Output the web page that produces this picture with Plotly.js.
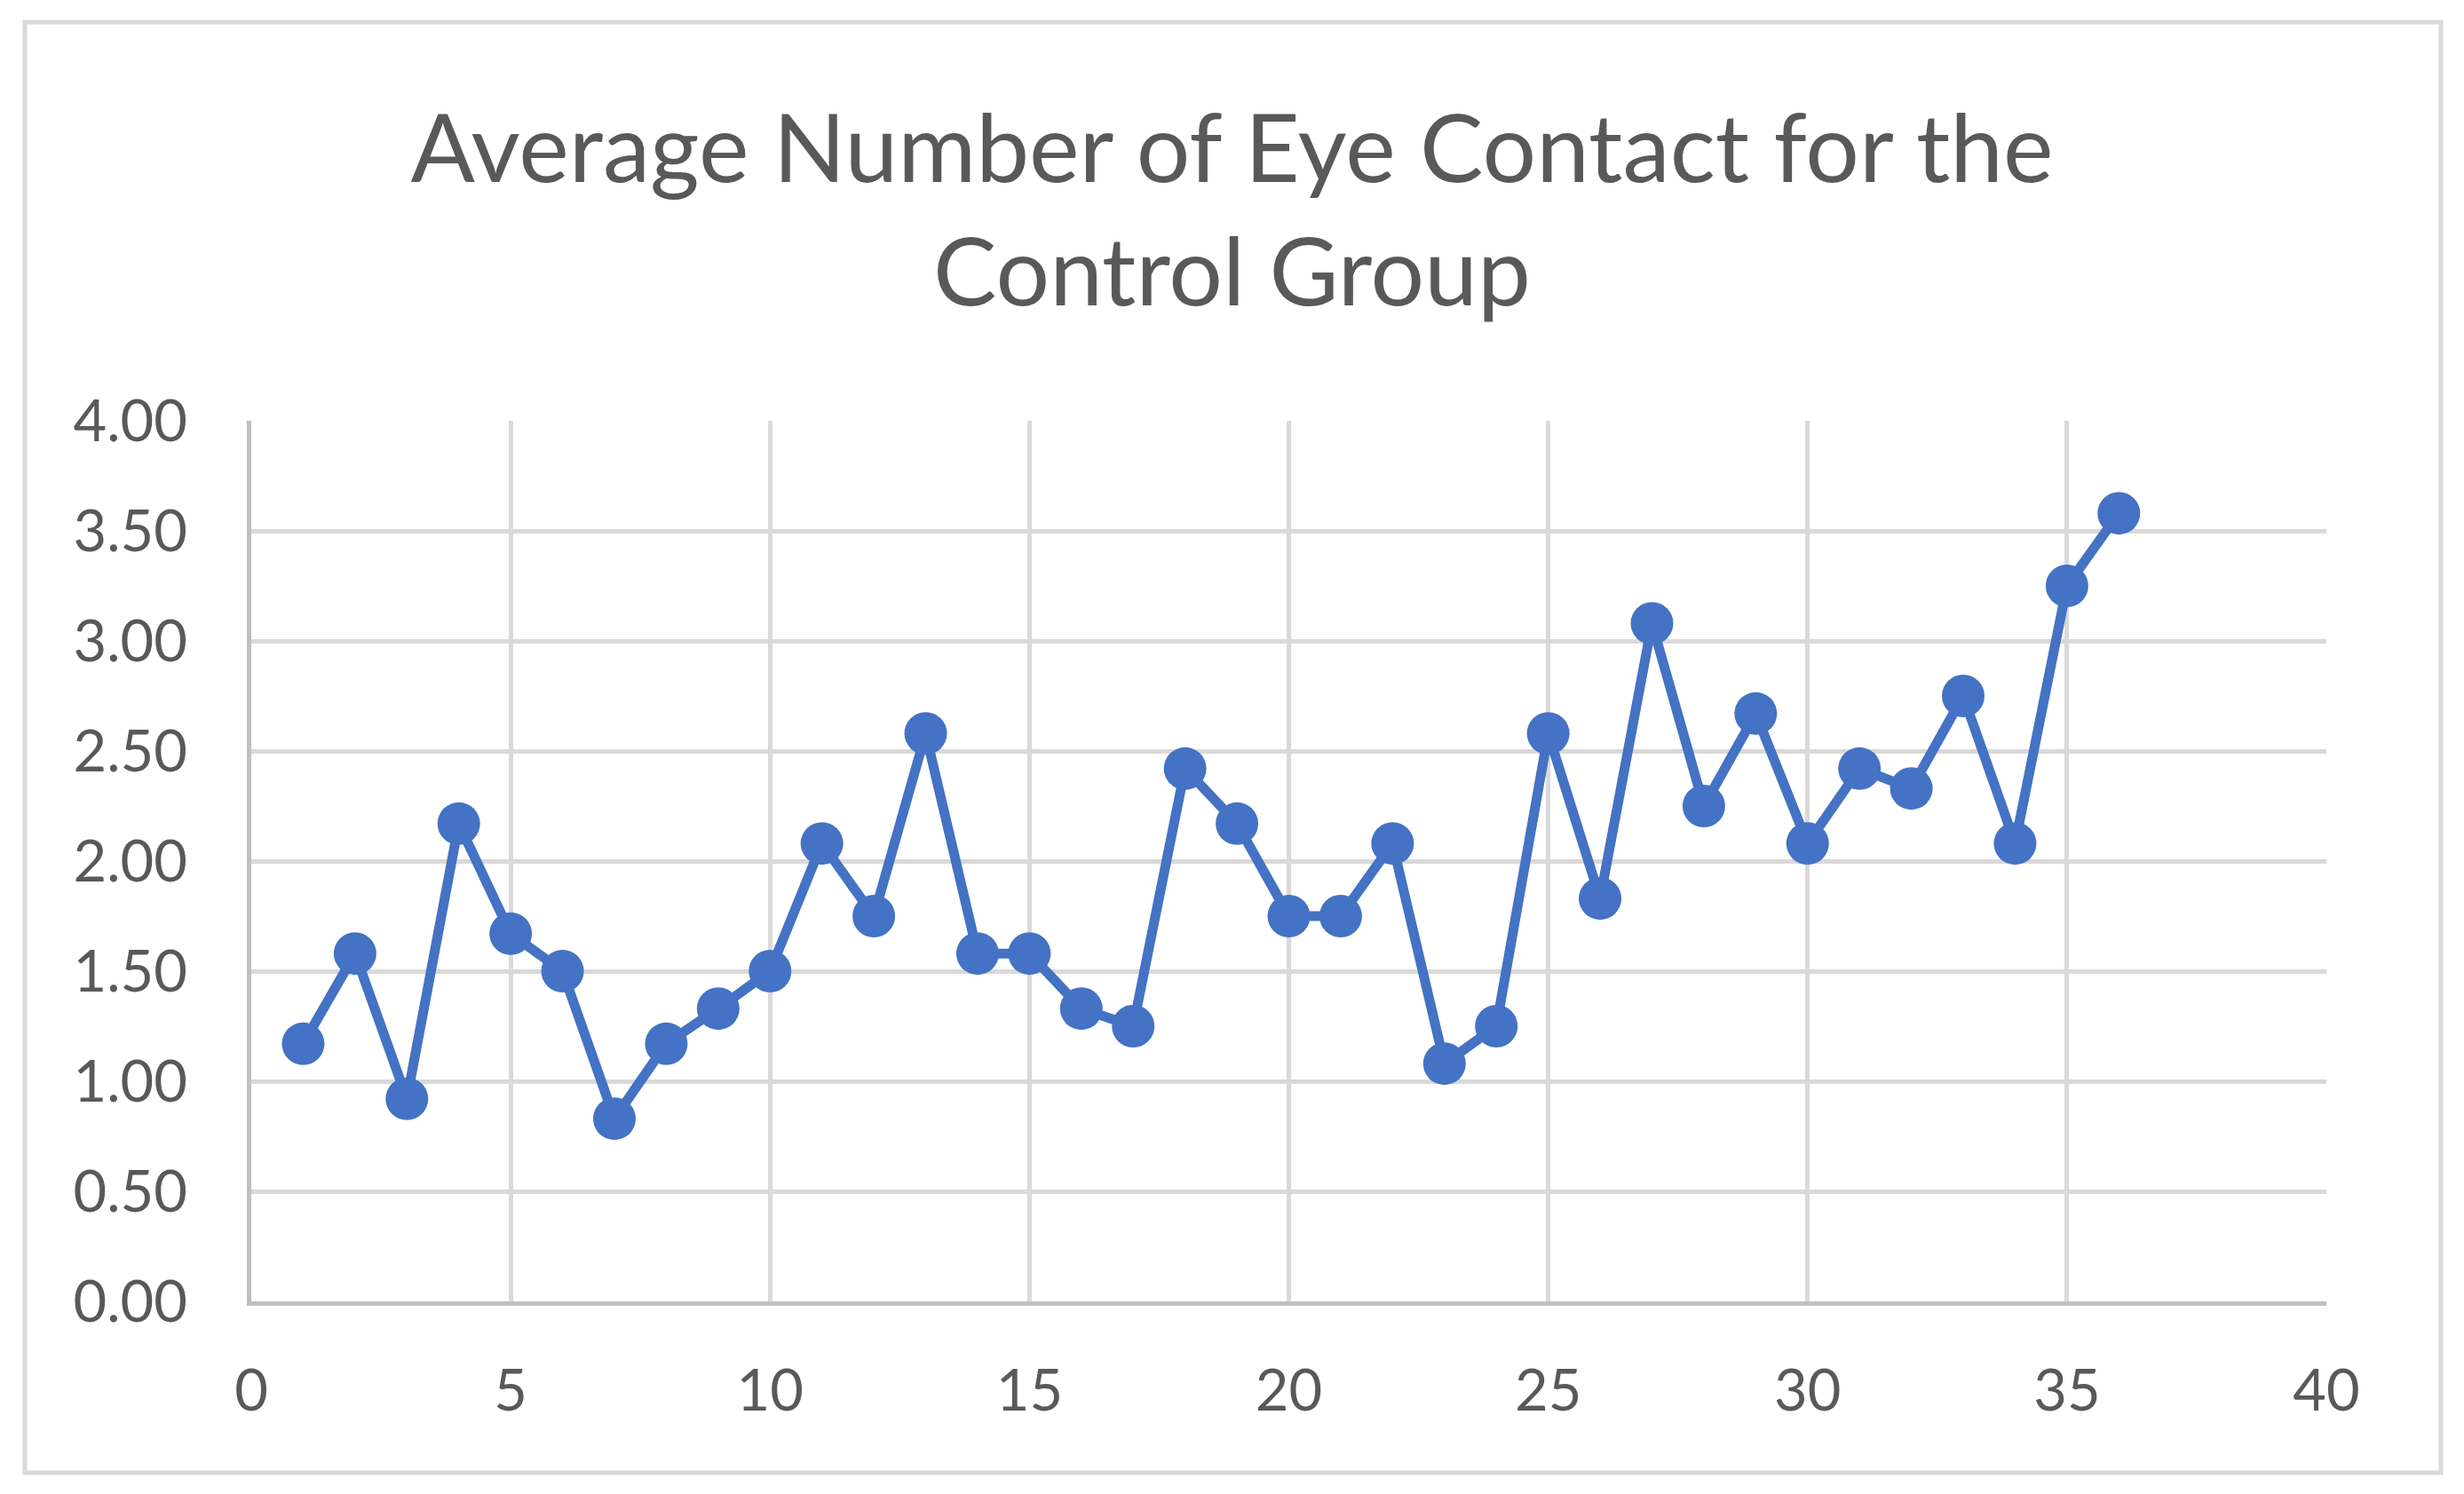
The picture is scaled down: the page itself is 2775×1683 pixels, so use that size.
<!DOCTYPE html>
<html>
<head>
<meta charset="utf-8">
<script src="https://cdn.plot.ly/plotly-3.0.1.min.js"></script>
<style>
  html, body { margin: 0; padding: 0; background: #ffffff; }
  #chart { width: 2775px; height: 1683px; }
</style>
</head>
<body>
<div id="chart"></div>
<script>
// Session index (x) and average eye-contact count (y)
const sessions = [1,2,3,4,5,6,7,8,9,10,11,12,13,14,15,16,17,18,19,20,21,22,23,24,25,26,27,28,29,30,31,32,33,34,35,36];
const avgEyeContact = [1.17,1.58,0.92,2.17,1.67,1.50,0.83,1.17,1.33,1.50,2.08,1.75,2.58,1.58,1.58,1.33,1.25,2.42,2.17,1.75,1.75,2.08,1.08,1.25,2.58,1.83,3.08,2.25,2.67,2.08,2.42,2.33,2.75,2.08,3.25,3.58];
const xTicks = [0,5,10,15,20,25,30,35,40];
const yTicks = [0,0.5,1,1.5,2,2.5,3,3.5,4];
const chartTitle = 'Average Number of Eye Contact for the<br>Control Group';

const FONT = 'Lato, "Open Sans", "Noto Sans", sans-serif';
const TXT = '#595959';

const trace = {
  x: sessions,
  y: avgEyeContact,
  type: 'scatter',
  mode: 'lines+markers',
  line: { color: '#4472C4', width: 11 },
  marker: { color: '#4472C4', size: 48 },
  hoverinfo: 'x+y'
};

const layout = {
  width: 2775,
  height: 1683,
  paper_bgcolor: '#ffffff',
  plot_bgcolor: '#ffffff',
  margin: { l: 283, r: 155, t: 474, b: 217, pad: 0 },
  showlegend: false,
  title: {
    text: chartTitle,
    font: { family: FONT, size: 107, color: TXT },
    x: 0.5, xref: 'container', xanchor: 'center',
    y: 1 - 205 / 1683, yref: 'container', yanchor: 'middle'
  },
  xaxis: {
    range: [0, 40],
    tickvals: xTicks,
    ticktext: xTicks.map(String),
    showgrid: true, gridcolor: '#D9D9D9', gridwidth: 5,
    zeroline: false,
    showline: true, linecolor: '#BFBFBF', linewidth: 5,
    ticks: '', ticklabelstandoff: 40,
    tickfont: { family: FONT, size: 65, color: TXT },
    fixedrange: true
  },
  yaxis: {
    range: [0, 4],
    tickvals: yTicks,
    ticktext: yTicks.map(v => v.toFixed(2)),
    showgrid: true, gridcolor: '#D9D9D9', gridwidth: 5,
    zeroline: false,
    showline: true, linecolor: '#BFBFBF', linewidth: 5,
    ticks: '', ticklabelstandoff: 54,
    tickfont: { family: FONT, size: 65, color: TXT },
    fixedrange: true
  },
  shapes: [{
    type: 'rect', xref: 'paper', yref: 'paper',
    x0: (28 - 283) / 2337, x1: (2749 - 283) / 2337,
    y0: (1466 - 1659) / 992, y1: (1466 - 25) / 992,
    line: { color: '#D9D9D9', width: 5 },
    fillcolor: 'rgba(0,0,0,0)',
    layer: 'below'
  }]
};

Plotly.newPlot('chart', [trace], layout, { displayModeBar: false, staticPlot: true });
</script>
</body>
</html>
